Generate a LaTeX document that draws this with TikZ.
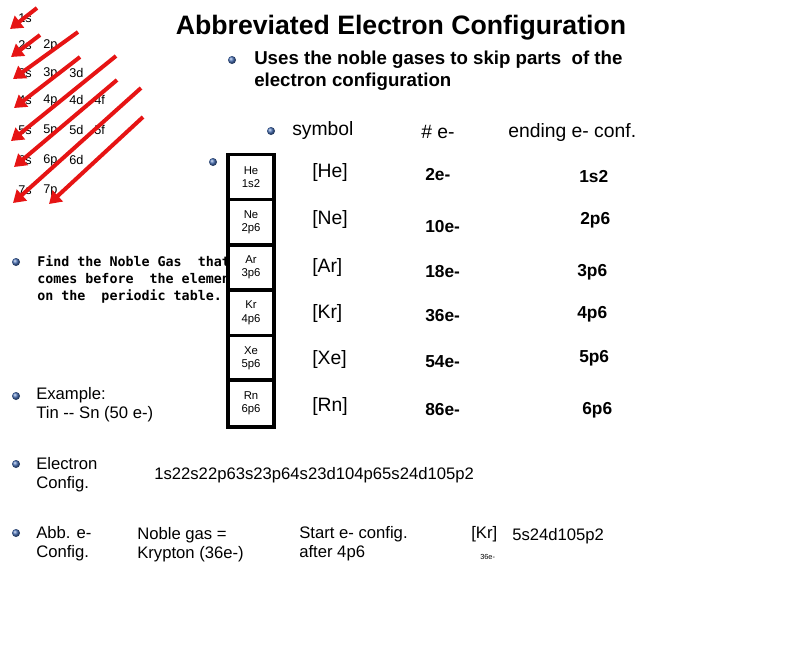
\documentclass[tikz,border=0pt]{standalone}
\usepackage{fontspec}
\setmainfont{Liberation Sans}
\newfontfamily\monof{DejaVu Sans Mono}
\usetikzlibrary{arrows.meta}
\definecolor{arrred}{RGB}{230,20,20}
\definecolor{bulblue}{RGB}{70,110,180}
\begin{document}
\begin{tikzpicture}[x=0.75pt,y=-0.75pt,
  orb/.style={anchor=west,inner sep=0,font=\fontsize{9.5}{11}\selectfont},
  arr/.style={draw=arrred,line width=3pt,-{Triangle[length=9pt,width=11pt]}},
  bul/.style={circle,inner sep=0,minimum size=6pt,ball color=bulblue},
  txt/.style={anchor=west,inner sep=0,align=left,font=\fontsize{12.5}{14}\selectfont},
  btxt/.style={anchor=west,inner sep=0,align=left,font=\bfseries\fontsize{12.5}{14}\selectfont},
  htxt/.style={anchor=west,inner sep=0,font=\fontsize{14.5}{16}\selectfont},
  cell/.style={draw,fill=white,line width=2.5pt,inner sep=0,align=center,font=\fontsize{8.5}{10}\selectfont},
  ]
\useasboundingbox (0,0) rectangle (800,661);
% orbital labels
\node[orb] (o1s) at (18,18) {1s};
\node[orb] (o2s) at (18,45) {2s}; \node[orb] (o2p) at (43,45) {2p};
\node[orb] (o3s) at (18,73) {3s}; \node[orb] (o3p) at (43,73) {3p}; \node[orb] (o3d) at (69,73) {3d};
\node[orb] (o4s) at (18,100) {4s}; \node[orb] (o4p) at (43,100) {4p}; \node[orb] (o4d) at (69,100) {4d}; \node[orb] (o4f) at (94,100) {4f};
\node[orb] (o5s) at (18,130) {5s}; \node[orb] (o5p) at (43,130) {5p}; \node[orb] (o5d) at (69,130) {5d}; \node[orb] (o5f) at (94,130) {5f};
\node[orb] (o6s) at (18,160) {6s}; \node[orb] (o6p) at (43,160) {6p}; \node[orb] (o6d) at (69,160) {6d};
\node[orb] (o7s) at (18,190) {7s}; \node[orb] (o7p) at (43,190) {7p};
% arrows
\coordinate (a1) at (37,8); \coordinate (b1) at (10,29);
\coordinate (a2) at (40,35); \coordinate (b2) at (11,57);
\coordinate (a3) at (78,32); \coordinate (b3) at (13,79);
\coordinate (a4) at (80,57); \coordinate (b4) at (14,108);
\coordinate (a5) at (116,56); \coordinate (b5) at (11,141);
\coordinate (a6) at (117,80); \coordinate (b6) at (14,167);
\coordinate (a7) at (141,88); \coordinate (b7) at (13,203);
\coordinate (a8) at (143,117); \coordinate (b8) at (49,204);
\foreach \i in {1,...,8} {\draw[arr] (a\i) -- (b\i);}
% title
\node[font=\bfseries\fontsize{20}{22}\selectfont,inner sep=0] (title) at (401,28) {Abbreviated Electron Configuration};
\node[bul] (u1) at (232,60) {};
\node[anchor=north west,inner sep=0,align=left,font=\bfseries\fontsize{14}{16.5}\selectfont] (uses) at (254,51) {Uses the noble gases to skip parts\ \ of the\\electron configuration};
% header
\node[bul] (u2) at (271,131) {};
\node[htxt] (hs) at (292,130) {symbol};
\node[htxt] (he) at (421,132) {\# e-};
\node[htxt] (hc) at (508,132) {ending e- conf.};
\node[bul] (u3) at (213,162) {};
% left notes
\node[bul] (u4) at (16,262) {};
\node[anchor=north west,inner sep=0,align=left,font=\monof\bfseries\fontsize{10}{13}\selectfont] (find) at (37,255) {Find the Noble Gas\ \ that\\comes before\ \ the element\\on the\ \ periodic table.};
% column
\foreach \n/\s/\c [count=\k from 0] in {He/1s2/cHe,Ne/2p6/cNe,Ar/3p6/cAr,Kr/4p6/cKr,Xe/5p6/cXe,Rn/6p6/cRn}{
  \node[cell,minimum width=46*0.75pt,minimum height=45.5*0.75pt] (\c) at (251,177+45.3*\k) {\n\\\s};
}
\draw[line width=2.5pt] (228,380) rectangle (274,427);
% table rows
\foreach \n/\e/\c/\y/\ye/\yc/\xc [count=\k] in {He/2e-/1s2/172/175/177/579,Ne/10e-/2p6/219/227/220/580,Ar/18e-/3p6/267/272/272/577,Kr/36e-/4p6/313/316/314/577,Xe/54e-/5p6/359/362/358/579,Rn/86e-/6p6/406/410/410/582}{
  \node[txt,font=\fontsize{14.5}{16}\selectfont] (s\k) at (312,\y) {[\n]};
  \node[btxt,font=\bfseries\fontsize{13}{14}\selectfont] (e\k) at (425,\ye) {\e};
  \node[btxt,font=\bfseries\fontsize{13}{14}\selectfont] (c\k) at (\xc,\yc) {\c};
}
\node[bul] (u5) at (16,396) {};
\node[txt,anchor=north west] (ex) at (36,387) {Example:\\Tin -{}- Sn (50 e-)};
\node[bul] (u6) at (16,464) {};
\node[txt,anchor=north west] (ec) at (36,457) {Electron\\Config.};
\node[txt] (ecs) at (154,475) {1s22s22p63s23p64s23d104p65s24d105p2};
\node[bul] (u7) at (16,533) {};
\node[txt,anchor=north west] (ab) at (36,526) {Abb. e-\\Config.};
\node[txt,anchor=north west] (ng) at (137,527) {Noble gas =\\Krypton (36e-)};
\node[txt,anchor=north west] (st) at (299,526) {Start e- config.\\after 4p6};
\node[txt] (kr) at (471,534) {[Kr]};
\node[txt] (kr2) at (512,536) {5s24d105p2};
\node[anchor=west,inner sep=0,font=\fontsize{5.5}{6}\selectfont] (k36) at (480,557) {36e-};
\end{tikzpicture}
\end{document}
